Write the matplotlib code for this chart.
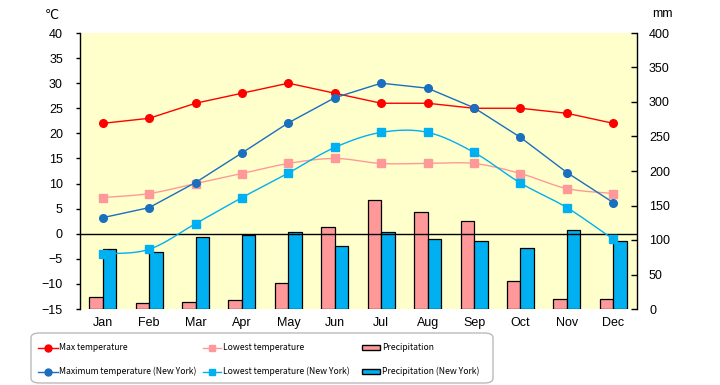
import numpy as np
import matplotlib
matplotlib.use("Agg")
import matplotlib.pyplot as plt
from matplotlib.lines import Line2D
from matplotlib.patches import Rectangle, FancyBboxPatch

plt.rcParams['font.family'] = ['Liberation Sans', 'DejaVu Sans']
LEG_FAMILY = ['Noto Sans CJK JP', 'Liberation Sans', 'DejaVu Sans']

months = ["Jan", "Feb", "Mar", "Apr", "May", "Jun", "Jul", "Aug", "Sep", "Oct", "Nov", "Dec"]
max_temp = [22, 23, 26, 28, 30, 28, 26, 26, 25, 25, 24, 22]
low_temp = [7.2, 8, 10, 12, 14, 15, 14, 14, 14, 12, 9, 8]
max_ny = [3.2, 5.2, 10.2, 16.1, 22.1, 27.1, 30.0, 29.0, 25.1, 19.2, 12.2, 6.2]
low_ny = [-4.1, -3.1, 2.0, 7.2, 12.1, 17.2, 20.2, 20.2, 16.2, 10.1, 5.2, -1.1]
precip = [17, 8, 10, 13, 37, 119, 158, 140, 127, 40, 14, 14]
precip_ny = [87, 82, 104, 107, 111, 92, 111, 102, 98, 89, 114, 98]
legend_labels = ["Max temperature", "Maximum temperature (New York)",
                 "Lowest temperature", "Lowest temperature (New York)",
                 "Precipitation", "Precipitation (New York)"]

C_RED = "#FF0000"
C_PINK = "#FF9999"
C_DBLUE = "#1A6FBF"
C_CYAN = "#00B0F0"
BG = "#FFFFCC"


def smooth(x, y, n=20):
    x = np.asarray(x, float)
    y = np.asarray(y, float)
    px = np.concatenate([[2 * x[0] - x[1]], x, [2 * x[-1] - x[-2]]])
    py = np.concatenate([[2 * y[0] - y[1]], y, [2 * y[-1] - y[-2]]])
    xs, ys = [], []
    for i in range(1, len(px) - 2):
        t = np.linspace(0, 1, n, endpoint=False)
        for arr, out in ((px, xs), (py, ys)):
            p0, p1, p2, p3 = arr[i - 1], arr[i], arr[i + 1], arr[i + 2]
            out.extend(0.5 * ((2 * p1) + (-p0 + p2) * t + (2 * p0 - 5 * p1 + 4 * p2 - p3) * t ** 2
                              + (-p0 + 3 * p1 - 3 * p2 + p3) * t ** 3))
    xs.append(x[-1])
    ys.append(y[-1])
    return np.array(xs), np.array(ys)


W, H = 720, 385
fig = plt.figure(figsize=(W / 100, H / 100), dpi=100)
ax = fig.add_axes([79.5 / W, 1 - 309 / H, 557 / W, 276 / H])
ax2 = ax.twinx()
ax.set_zorder(ax2.get_zorder() + 1)
ax.patch.set_visible(False)
ax2.patch.set_facecolor(BG)
ax2.patch.set_visible(True)

x = np.arange(len(months))
bw = 0.29
ax2.bar(x - bw / 2, precip, width=bw, color=C_PINK, edgecolor="black", linewidth=0.9)
ax2.bar(x + bw / 2, precip_ny, width=bw, color=C_CYAN, edgecolor="black", linewidth=0.9)
ax2.set_ylim(0, 400)
ax2.set_yticks(np.arange(0, 401, 50))

ax.axhline(0, color="black", linewidth=1.0, zorder=1)

ms = 5.5
ax.plot(x, max_temp, color=C_RED, linewidth=1.0, zorder=3)
ax.plot(x, max_temp, 'o', color=C_RED, markersize=ms, zorder=4)
sx, sy = smooth(x, low_temp)
ax.plot(sx, sy, color=C_PINK, linewidth=1.0, zorder=3)
ax.plot(x, low_temp, 's', color=C_PINK, markersize=ms - 0.3, zorder=4)
ax.plot(x, max_ny, color=C_DBLUE, linewidth=1.0, zorder=3)
ax.plot(x, max_ny, 'o', color=C_DBLUE, markersize=ms, zorder=4)
sx, sy = smooth(x, low_ny)
ax.plot(sx, sy, color=C_CYAN, linewidth=1.0, zorder=3)
ax.plot(x, low_ny, 's', color=C_CYAN, markersize=ms - 0.3, zorder=4)

ax.set_xlim(-0.5, len(months) - 0.5)
ax.set_ylim(-15, 40)
ax.set_yticks(np.arange(-15, 41, 5))
ax.set_xticks(x)
ax.set_xticklabels(months)

for a in (ax, ax2):
    a.spines['top'].set_visible(False)
    a.spines['bottom'].set_visible(False)
ax.spines['right'].set_visible(False)
ax2.spines['left'].set_visible(False)
ax.spines['left'].set_linewidth(1.0)
ax2.spines['right'].set_linewidth(1.0)

ax.tick_params(axis='y', direction='out', length=3, width=1, pad=9, labelsize=9)
ax.tick_params(axis='x', length=0, pad=6, labelsize=9)
ax2.tick_params(axis='y', direction='in', length=4, width=1, pad=9, labelsize=9)

fig.text(52 / W, 1 - 15 / H, "℃", fontsize=9, ha="center", va="center",
         family=['DejaVu Sans', 'Noto Sans CJK JP'])
fig.text(662 / W, 1 - 14 / H, "mm", fontsize=9, ha="center", va="center")

# legend box (manual, to keep the reference's column positions)
box = FancyBboxPatch((31 / W, 1 - 383 / H), 462 / W, 50 / H,
                     boxstyle="round,pad=0,rounding_size=0.012",
                     transform=fig.transFigure, facecolor="white",
                     edgecolor="#BBBBBB", linewidth=1.0)
fig.add_artist(box)

rows = [347.5, 371.5]
cols = [(38, 58, 59), (203, 221, 223), (362, 380, 382)]
styles = [
    ("line", C_RED, 'o'), ("line", C_DBLUE, 'o'),
    ("line", C_PINK, 's'), ("line", C_CYAN, 's'),
    ("bar", C_PINK, None), ("bar", C_CYAN, None),
]
texts = []
for i, (kind, col, mk) in enumerate(styles):
    c = cols[i // 2]
    r = rows[i % 2]
    yf = 1 - r / H
    if kind == "line":
        fig.add_artist(Line2D([c[0] / W, c[1] / W], [yf, yf], color=col, linewidth=1.0,
                              transform=fig.transFigure))
        fig.add_artist(Line2D([(c[0] + c[1]) / 2 / W], [yf], color=col, marker=mk,
                              markersize=5, linestyle='none', transform=fig.transFigure))
    else:
        fig.add_artist(Rectangle((c[0] / W, yf - 2.5 / H), (c[1] - c[0]) / W, 5 / H,
                                 facecolor=col, edgecolor="black", linewidth=1.0,
                                 transform=fig.transFigure))
    texts.append(fig.text(c[2] / W, yf, legend_labels[i], fontsize=9, family=LEG_FAMILY,
                          ha="left", va="center"))

# shrink the legend font until the longest label fits its column
renderer = fig.canvas.get_renderer()
size = 9.0
while size > 5:
    for t in texts:
        t.set_fontsize(size)
    wmax = texts[1].get_window_extent(renderer).width
    if wmax <= 138:
        break
    size -= 0.1

fig.savefig("out.png", dpi=100)
